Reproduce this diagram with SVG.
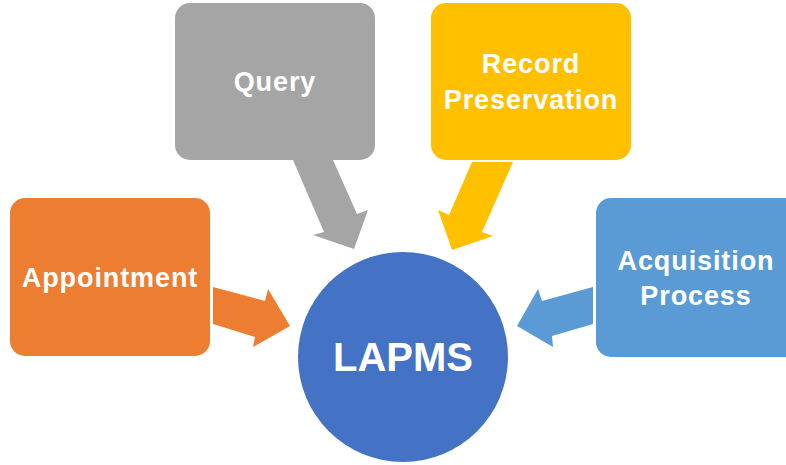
<svg xmlns="http://www.w3.org/2000/svg" width="786" height="465" viewBox="0 0 786 465">
<style>
.t{font-family:"Liberation Sans",Arial,sans-serif;font-weight:bold;fill:#fff;text-anchor:middle;font-size:27px;letter-spacing:0.9px}
</style>
<rect width="786" height="465" fill="#fff"/>
<g id="connectors">
<polygon fill="#A5A5A5" points="293,160 333,160 357,214 368,210 354,249 313,235 324,232"/>
<polygon fill="#FFC000" points="472,162 513,162 482,232 493,236 452,250 438,210 449,215"/>
<polygon fill="#ED7D31" points="213,287 265,301 268,289 290,326 253,347 255,337 213,324"/>
<polygon fill="#5B9BD5" points="593,287 542,301 538,289 517,326 553,347 552,336 593,324"/>
</g>
<g id="query"><rect x="175" y="3" width="200" height="157" rx="15" fill="#A5A5A5"/><text class="t" x="275" y="91">Query</text></g>
<g id="record"><rect x="431" y="3" width="200" height="157" rx="15" fill="#FFC000"/><text class="t" x="531" y="73">Record</text><text class="t" x="531" y="109">Preservation</text></g>
<g id="appointment"><rect x="10" y="198" width="200" height="158" rx="15" fill="#ED7D31"/><text class="t" x="110" y="287">Appointment</text></g>
<g id="acquisition"><rect x="596" y="198" width="205" height="159" rx="15" fill="#5B9BD5"/><text class="t" x="696" y="270">Acquisition</text><text class="t" x="696" y="305">Process</text></g>
<g id="lapms"><circle cx="403" cy="357" r="105" fill="#4472C4"/><text class="t" x="403" y="371" style="font-size:40px;letter-spacing:0">LAPMS</text></g>
</svg>
